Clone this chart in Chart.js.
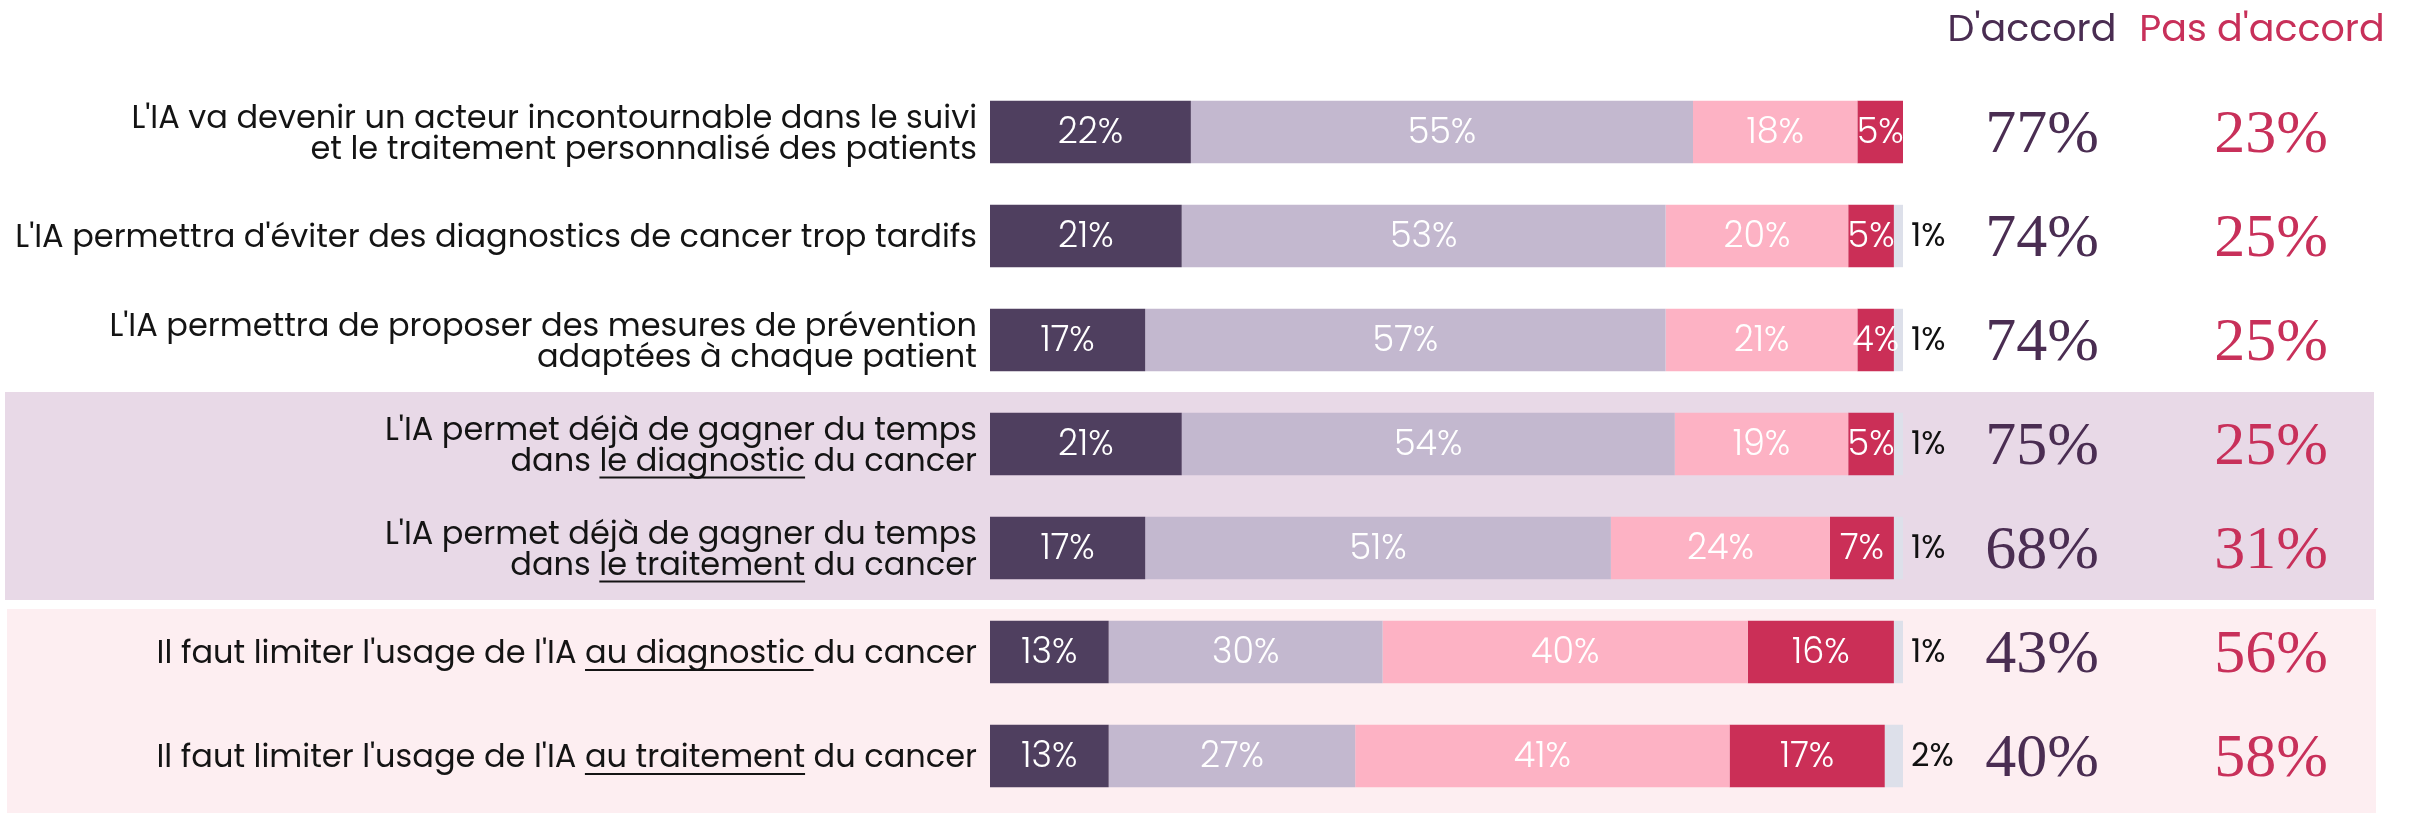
<!DOCTYPE html>
<html lang="fr">
<head>
<meta charset="utf-8">
<script src="https://cdn.jsdelivr.net/npm/chart.js@4.4.1/dist/chart.umd.min.js"></script>
<style>
  html, body { margin: 0; padding: 0; background: #fff; }
  canvas { display: block; }
</style>
</head>
<body>
<canvas id="chart" width="2410" height="813"></canvas>
<script>
// Texts of the statements; "_..._" marks the underlined part
const questions = [
  ["L'IA va devenir un acteur incontournable dans le suivi", "et le traitement personnalisé des patients"],
  ["L'IA permettra d'éviter des diagnostics de cancer trop tardifs"],
  ["L'IA permettra de proposer des mesures de prévention", "adaptées à chaque patient"],
  ["L'IA permet déjà de gagner du temps", "dans _le diagnostic_ du cancer"],
  ["L'IA permet déjà de gagner du temps", "dans _le traitement_ du cancer"],
  ["Il faut limiter l'usage de l'IA _au diagnostic _du cancer"],
  ["Il faut limiter l'usage de l'IA _au traitement_ du cancer"]
];

const toutAFait = [22, 21, 17, 21, 17, 13, 13];
const plutotOui = [55, 53, 57, 54, 51, 30, 27];
const plutotNon = [18, 20, 21, 19, 24, 40, 41];
const pasDuTout = [5, 5, 4, 5, 7, 16, 17];
const nsp = [0, 1, 1, 1, 1, 1, 2];

const totalAccord = [77, 74, 74, 75, 68, 43, 40];
const totalDesaccord = [23, 25, 25, 25, 31, 56, 58];

const headers = ["D'accord", "Pas d'accord"];

const SANS = "Poppins, 'Open Sans', sans-serif";
const SERIF = "'Liberation Serif', 'DejaVu Serif', serif";
const PURPLE = "#4a2d52";
const RED = "#c8305a";

// background bands behind the two groups of statements
const bandsPlugin = {
  id: "bands",
  beforeDraw(chart) {
    const y = chart.scales.y;
    const step = y.getPixelForValue(1) - y.getPixelForValue(0);
    const ctx = chart.ctx;
    ctx.save();
    ctx.fillStyle = "#e8d9e7";
    const t1 = y.getPixelForValue(3) - step / 2;
    const b1 = y.getPixelForValue(4) + step / 2;
    ctx.fillRect(5, t1, 2369, b1 - t1);
    ctx.fillStyle = "#fdeef1";
    const t2 = y.getPixelForValue(5) - step / 2 + 9;
    ctx.fillRect(7, t2, 2369, chart.height - t2);
    ctx.restore();
  }
};

// statements on the left, with underlined parts
const questionPlugin = {
  id: "questions",
  afterDraw(chart) {
    const ctx = chart.ctx;
    const y = chart.scales.y;
    const right = chart.chartArea.left - 13;
    const lineH = 31;
    ctx.save();
    ctx.font = "32px " + SANS;
    ctx.fillStyle = "#141414";
    ctx.strokeStyle = "#141414";
    ctx.lineWidth = 2;
    ctx.textBaseline = "middle";
    ctx.textAlign = "left";
    questions.forEach((lines, i) => {
      const cy = y.getPixelForValue(i) + 3;
      lines.forEach((line, j) => {
        const ly = cy + (j - (lines.length - 1) / 2) * lineH;
        const parts = line.split("_");
        const total = ctx.measureText(parts.join("")).width;
        let x = right - total;
        parts.forEach((p, k) => {
          const w = ctx.measureText(p).width;
          ctx.fillText(p, x, ly);
          if (k % 2 === 1) {
            ctx.beginPath();
            ctx.moveTo(x, ly + 15);
            ctx.lineTo(x + w, ly + 15);
            ctx.stroke();
          }
          x += w;
        });
      });
    });
    ctx.restore();
  }
};

// percentages in the bars, NSP outside, totals on the right
const valuesPlugin = {
  id: "values",
  afterDatasetsDraw(chart) {
    const ctx = chart.ctx;
    const y = chart.scales.y;
    ctx.save();
    ctx.textBaseline = "middle";
    chart.data.datasets.forEach((ds, d) => {
      const meta = chart.getDatasetMeta(d);
      meta.data.forEach((el, i) => {
        const v = ds.data[i];
        if (!v) return;
        if (d < 4) {
          ctx.font = "300 35px " + SANS;
          ctx.fillStyle = "#ffffff";
          ctx.textAlign = "center";
          ctx.fillText(v + "%", (el.x + el.base) / 2, el.y + 2);
        } else {
          ctx.font = "32px " + SANS;
          ctx.fillStyle = "#111111";
          ctx.textAlign = "left";
          ctx.fillText(v + "%", el.x + 8, el.y + 2);
        }
      });
    });

    ctx.textAlign = "center";
    ctx.textBaseline = "alphabetic";
    ctx.font = "38px " + SANS;
    ctx.fillStyle = PURPLE;
    ctx.fillText(headers[0], 2032, 41);
    ctx.fillStyle = RED;
    ctx.fillText(headers[1], 2262, 41);

    ctx.font = "62px " + SERIF;
    totalAccord.forEach((v, i) => {
      const cy = y.getPixelForValue(i);
      ctx.fillStyle = PURPLE;
      ctx.fillText(v + "%", 2042, cy + 20);
      ctx.fillStyle = RED;
      ctx.fillText(totalDesaccord[i] + "%", 2271, cy + 20);
    });
    ctx.restore();
  }
};

const barOpts = { barPercentage: 0.6, categoryPercentage: 1, borderWidth: 0 };

new Chart(document.getElementById("chart").getContext("2d"), {
  type: "bar",
  data: {
    labels: questions.map(q => q.join(" ").replace(/_/g, "")),
    datasets: [
      { label: "Tout à fait d'accord", data: toutAFait, backgroundColor: "#4f3f5f", ...barOpts },
      { label: "Plutôt d'accord", data: plutotOui, backgroundColor: "#c3b8cf", ...barOpts },
      { label: "Plutôt pas d'accord", data: plutotNon, backgroundColor: "#fdb2c4", ...barOpts },
      { label: "Pas du tout d'accord", data: pasDuTout, backgroundColor: "#cb2f57", ...barOpts },
      { label: "Ne se prononce pas", data: nsp, backgroundColor: "#dde0ea", ...barOpts }
    ]
  },
  options: {
    indexAxis: "y",
    responsive: false,
    animation: false,
    layout: { padding: { left: 990, right: 507, top: 80, bottom: 5 } },
    scales: {
      x: { stacked: true, min: 0, max: 100, display: false },
      y: { stacked: true, display: false }
    },
    plugins: {
      legend: { display: false },
      tooltip: { enabled: false }
    }
  },
  plugins: [bandsPlugin, questionPlugin, valuesPlugin]
});
</script>
</body>
</html>
